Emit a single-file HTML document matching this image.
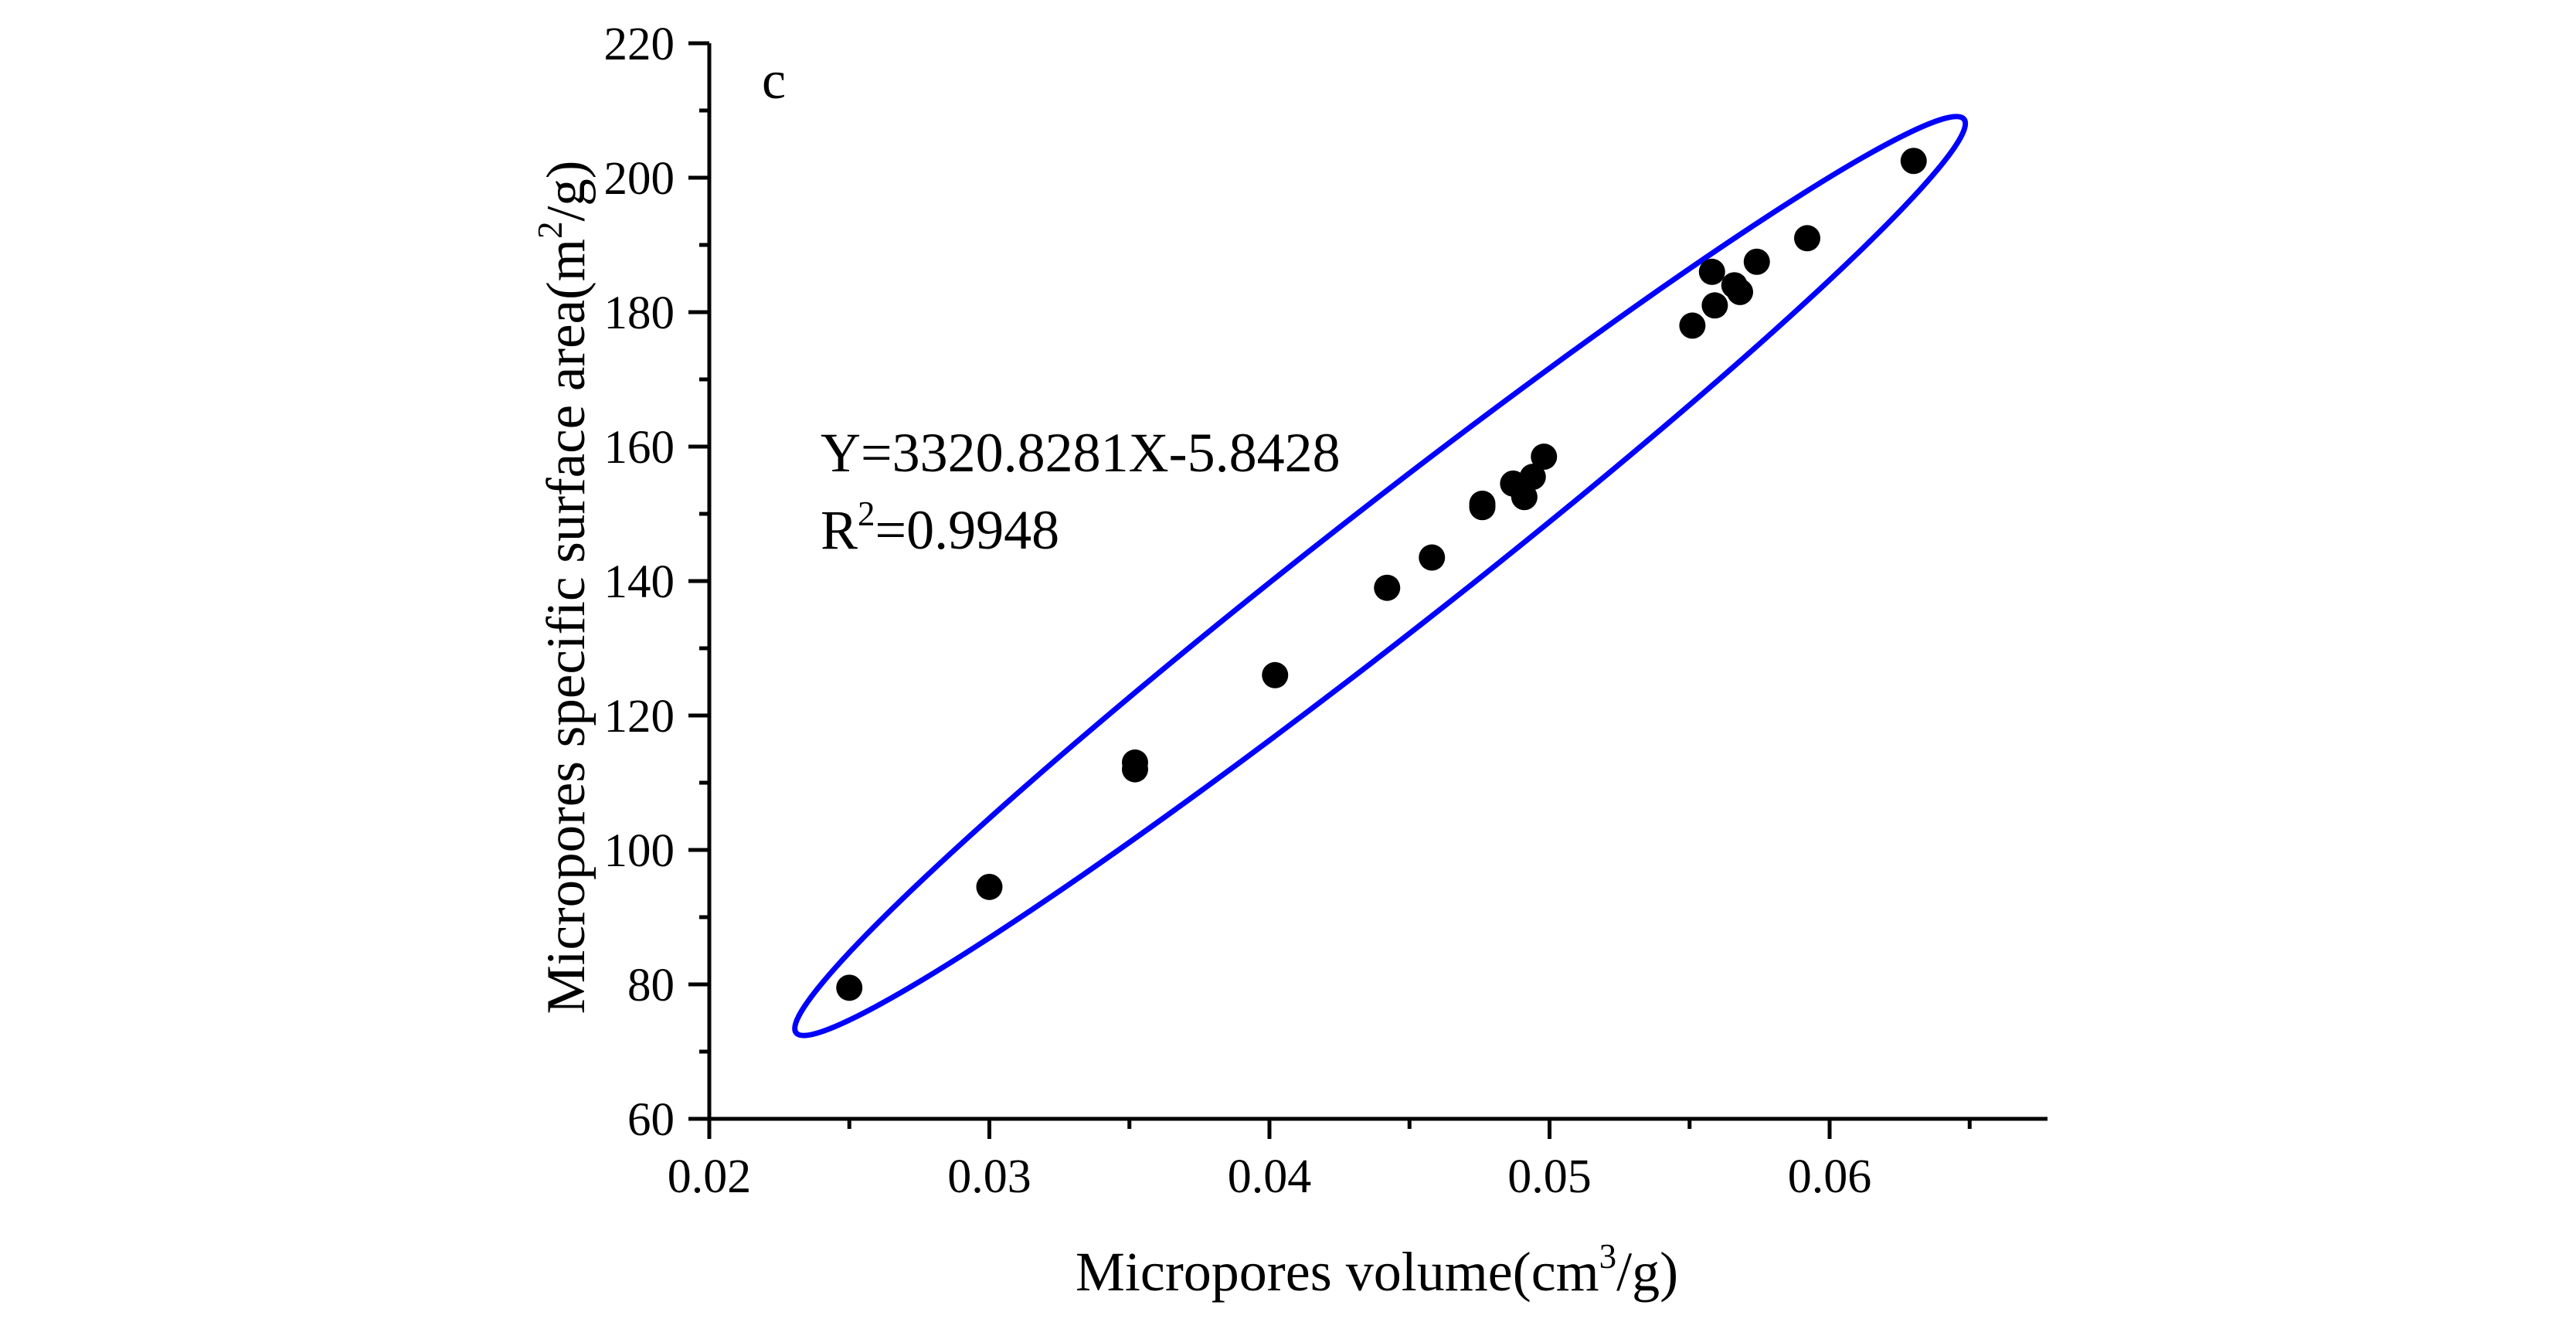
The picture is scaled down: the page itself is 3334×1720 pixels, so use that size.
<!DOCTYPE html>
<html><head><meta charset="utf-8"><style>
html,body{margin:0;padding:0;background:#fff;}
svg{display:block;font-family:"Liberation Serif",serif;}
</style></head><body>
<svg id="chart" width="3334" height="1720" viewBox="0 0 3334 1720">
<rect width="3334" height="1720" fill="#fff"/>
<g id="ellipse-layer"></g>
<g id="axes"></g>
<g id="points"></g>
<text x="986" y="127" font-size="70">c</text>
<text x="1062" y="610" font-size="72">Y=3320.8281X-5.8428</text>
<text x="1062" y="710" font-size="72">R<tspan font-size="45" dy="-30">2</tspan><tspan dy="30">=0.9948</tspan></text>
<text x="1782" y="1670" font-size="72" text-anchor="middle">Micropores volume(cm<tspan font-size="45" dy="-29">3</tspan><tspan dy="29">/g)</tspan></text>
<text transform="translate(756,760) rotate(-90)" font-size="71" text-anchor="middle">Micropores specific surface area(m<tspan font-size="45" dy="-29">2</tspan><tspan dy="29">/g)</tspan></text>
</svg>
<script>
const xValues = [0.025,0.030,0.0352,0.0352,0.0402,0.0442,0.0458,0.0476,0.0476,0.0487,0.0491,0.0494,0.0498,0.0551,0.0559,0.0558,0.0566,0.0568,0.0574,0.0592,0.0630];
const yValues = [79.5,94.5,113,112,126,139,143.5,151,151.5,154.5,152.5,155.5,158.5,178,181,186,184,183,187.5,191,202.5];
const xTicks = [0.02,0.03,0.04,0.05,0.06];
const xTickLabels = ["0.02","0.03","0.04","0.05","0.06"];
const yTicks = [60,80,100,120,140,160,180,200,220];
const yTickLabels = ["60","80","100","120","140","160","180","200","220"];
const ellipseTipA = [0.0231,72.8];
const ellipseTipB = [0.0648,208.7];

const NS = "http://www.w3.org/2000/svg";
const X0=918, XS=36250, Y0=1448, YS=8.7;
function xs(v){return X0+(v-0.02)*XS;}
function ys(v){return Y0-(v-60)*YS;}
function mk(tag,attrs,parent){const e=document.createElementNS(NS,tag);for(const k in attrs)e.setAttribute(k,attrs[k]);parent.appendChild(e);return e;}

const axes=document.getElementById('axes');
let l=mk('line',{x1:X0,y1:Y0,x2:2650,y2:Y0,stroke:'#000','stroke-width':5},axes);


l=mk('line',{x1:X0,y1:ys(220),x2:X0,y2:Y0+2,stroke:'#000','stroke-width':5},axes);


for(let v=0.02;v<=0.0676;v+=0.005){
  const major=Math.abs(Math.round(v*100)-v*100)<1e-6;
  const t=mk('line',{x1:xs(v),y1:Y0,x2:xs(v),y2:Y0+(major?26:13),stroke:'#000','stroke-width':5},axes);
  
  
}
xTicks.forEach((v,i)=>{
  const t=mk('text',{x:xs(v),y:1543,'font-size':62,'text-anchor':'middle'},axes);
  t.textContent=xTickLabels[i];
  
  
});
for(let v=60;v<=220;v+=10){
  const major=v%20===0;
  const t=mk('line',{x1:X0-(major?27:13),y1:ys(v),x2:X0,y2:ys(v),stroke:'#000','stroke-width':5},axes);
  
  
}
yTicks.forEach((v,i)=>{
  const t=mk('text',{x:873,y:ys(v)+21,'font-size':61,'text-anchor':'end'},axes);
  t.textContent=yTickLabels[i];
  
  
});

const ax=xs(ellipseTipA[0]),ay=ys(ellipseTipA[1]),bx=xs(ellipseTipB[0]),by=ys(ellipseTipB[1]);
const cx=(ax+bx)/2,cy=(ay+by)/2,a=Math.hypot(bx-ax,by-ay)/2,ang=Math.atan2(by-ay,bx-ax)*180/Math.PI;
const el=mk('ellipse',{cx:cx,cy:cy,rx:a,ry:82,transform:`rotate(${ang} ${cx} ${cy})`,fill:'none',stroke:'#0000ff','stroke-width':7},document.getElementById('ellipse-layer'));



const pts=document.getElementById('points');
xValues.forEach((x,i)=>{
  const c=mk('circle',{cx:xs(x),cy:ys(yValues[i]),r:17,fill:'#000'},pts);
  
  
});
</script>
</body></html>
